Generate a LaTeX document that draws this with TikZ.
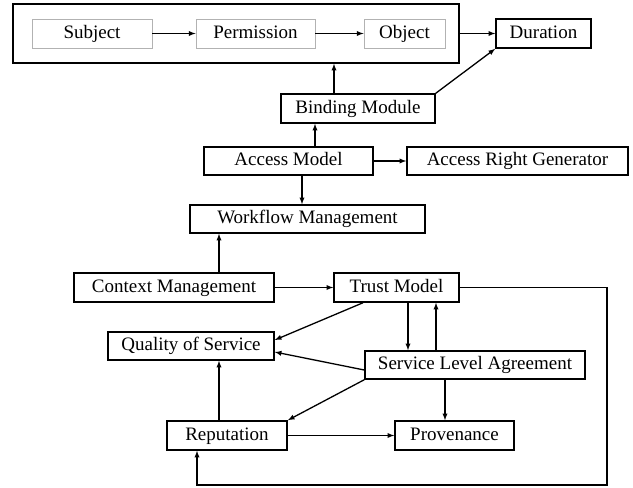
\documentclass[tikz,border=0pt]{standalone}
\usepackage{fontspec}
\setmainfont{Liberation Serif}

\begin{document}
\begin{tikzpicture}
        [x=1pt, y=-1pt,
        box/.style={rectangle, draw, line width=1.5pt, minimum height=29pt, inner sep=0pt,
            text height=13pt, text depth=4pt, font=\fontsize{19}{22}\selectfont},
        inbox/.style={box, draw=gray!60, line width=0.9pt},
        arr/.style={->, >=latex, line width=1.3pt},]

        \useasboundingbox (0,0) rectangle (633,488);

        % top frame
        \node[box, minimum width=446pt, minimum height=59pt] (frame) at (236,33.5) {};
        \node[inbox, minimum width=120pt] (subject) at (92,33.5) {Subject};
        \node[inbox, minimum width=119pt] (permission) at (255.5,33.5) {Permission};
        \node[inbox, minimum width=81pt] (object) at (404.5,33.5) {Object};
        \node[box, minimum width=95pt] (duration) at (543.5,33.5) {Duration};

        \node[box, minimum width=154pt] (binding) at (358,108.5) {Binding Module};
        \node[box, minimum width=169pt, minimum height=28pt] (access) at (288.5,161) {Access Model};
        \node[box, minimum width=221pt, minimum height=28pt] (argen) at (517.5,161) {Access Right Generator};
        \node[box, minimum width=235pt, minimum height=28pt] (workflow) at (307.5,219) {Workflow Management};

        % trust part
        \node[box, minimum width=200pt] (context) at (174,287.5) {Context Management};
        \node[box, minimum width=125pt] (trust) at (396.5,287.5) {Trust Model};
        \node[box, minimum width=166pt, minimum height=28pt] (qos) at (191,346) {Quality of Service};
        \node[box, minimum width=220pt, minimum height=28pt] (sla) at (475,365) {Service Level Agreement};
        \node[box, minimum width=120pt] (reputation) at (227,435.5) {Reputation};
        \node[box, minimum width=119pt] (provenance) at (454.5,435.5) {Provenance};
        \coordinate (loop) at (607,485);

        \draw[arr] (subject) -- (permission);
        \draw[arr] (permission) -- (object);
        \draw[arr] (frame.east) -- (duration.west);
        \draw[arr] ([xshift=-24pt]binding.north) -- ([xshift=-24pt]binding.north |- frame.south);
        \draw[arr] (binding.north east) -- (duration.south west);
        \draw[arr] ([xshift=26.5pt]access.north) -- ([xshift=26.5pt]access.north |- binding.south);
        \draw[arr] (access) -- (argen);
        \draw[arr] ([xshift=13.5pt]access.south) -- ([xshift=13.5pt]access.south |- workflow.north);
        \draw[arr] ([xshift=45pt]context.north) -- ([xshift=45pt]context.north |- workflow.south);

        \draw[arr] (context) -- (trust);
        \draw[arr] (trust.east) -| (loop) -| ([xshift=-30pt]reputation.south);
        \draw[arr] ([xshift=-33.5pt]trust.south) -- ([yshift=6pt]qos.east);
        \draw[arr] ([yshift=-5pt]sla.west) -- ([yshift=-6pt]qos.east);
        \draw[arr] (sla.south west) -- (reputation.north east);
        \draw[arr] ([xshift=-8pt]reputation.north) -- ([xshift=-8pt]reputation.north |- qos.south);
        \draw[arr] (reputation) -- (provenance);
        \draw[arr] ([xshift=-30pt]sla.south) -- ([xshift=-30pt]sla.south |- provenance.north);
        \draw[arr] ([xshift=11.5pt]trust.south) -- ([xshift=11.5pt]trust.south |- sla.north);
        \draw[arr] ([xshift=-39pt]sla.north) -- ([xshift=-39pt]sla.north |- trust.south);

    \end{tikzpicture}
\end{document}
